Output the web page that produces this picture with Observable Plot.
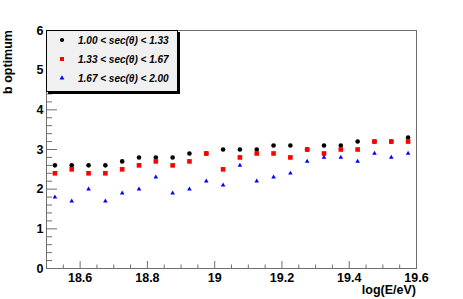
<!DOCTYPE html>
<html>
<head>
<meta charset="utf-8">
<script src="https://cdn.jsdelivr.net/npm/d3@7"></script>
<script src="https://cdn.jsdelivr.net/npm/@observablehq/plot@0.6"></script>
<style>
  html, body { margin: 0; padding: 0; background: #fff; }
  svg { display: block; }
</style>
</head>
<body>
<div id="chart"></div>
<script>
const logE = [18.525, 18.575, 18.625, 18.675, 18.725, 18.775, 18.825, 18.875, 18.925, 18.975, 19.025,
              19.075, 19.125, 19.175, 19.225, 19.275, 19.325, 19.375, 19.425, 19.475, 19.525, 19.575];
const bSec1 = [2.6, 2.6, 2.6, 2.6, 2.7, 2.8, 2.8, 2.8, 2.9, 2.9, 3.0, 3.0, 3.0, 3.1, 3.1, 3.0, 3.1, 3.1, 3.2, 3.2, 3.2, 3.3];
const bSec2 = [2.4, 2.5, 2.4, 2.4, 2.5, 2.6, 2.7, 2.6, 2.7, 2.9, 2.5, 2.8, 2.9, 2.9, 2.8, 3.0, 2.9, 3.0, 3.0, 3.2, 3.2, 3.2];
const bSec3 = [1.8, 1.7, 2.0, 1.7, 1.9, 2.0, 2.3, 1.9, 2.0, 2.2, 2.1, 2.6, 2.2, 2.3, 2.4, 2.7, 2.8, 2.8, 2.7, 2.9, 2.8, 2.9];
const seriesNames = ["1.00 < sec(\u03b8) < 1.33", "1.33 < sec(\u03b8) < 1.67", "1.67 < sec(\u03b8) < 2.00"];
const xTicks = [18.6, 18.8, 19.0, 19.2, 19.4, 19.6];
const xTickLabels = ["18.6", "18.8", "19", "19.2", "19.4", "19.6"];
const xMinorTicks = [18.5, 18.55, 18.65, 18.7, 18.75, 18.85, 18.9, 18.95, 19.05, 19.1, 19.15, 19.25, 19.3, 19.35, 19.45, 19.5, 19.55];
const yTicks = [0, 1, 2, 3, 4, 5, 6];
const yTickLabels = ["0", "1", "2", "3", "4", "5", "6"];
const yMinorTicks = [0.2, 0.4, 0.6, 0.8, 1.2, 1.4, 1.6, 1.8, 2.2, 2.4, 2.6, 2.8, 3.2, 3.4, 3.6, 3.8, 4.2, 4.4, 4.6, 4.8, 5.2, 5.4, 5.6, 5.8];
const xTitle = "log(E/eV)";
const yTitle = "b optimum";

const W = 463, H = 299, mL = 46, mR = 47, mT = 30, mB = 31;
const innerW = W - mL - mR, innerH = H - mT - mB;
const font = "'Liberation Sans', Arial, Helvetica, sans-serif";
const axisColor = "#6e6e6e";

const rows = (ys) => logE.map((x, i) => ({x, y: ys[i]}));

const plot = Plot.plot({
  width: W, height: H,
  marginLeft: mL, marginRight: mR, marginTop: mT, marginBottom: mB,
  style: {fontFamily: font, background: "#fff"},
  x: {domain: [18.5, 19.6]},
  y: {domain: [0, 6]},
  marks: [
    Plot.frame({stroke: axisColor}),
    Plot.tickX(xTicks, {x: d => d, insetTop: innerH - 7, stroke: axisColor}),
    Plot.tickX(xMinorTicks, {x: d => d, insetTop: innerH - 3.5, stroke: axisColor}),
    Plot.tickY(yTicks, {y: d => d, insetRight: innerW - 11, stroke: axisColor}),
    Plot.tickY(yMinorTicks, {y: d => d, insetRight: innerW - 6, stroke: axisColor}),
    Plot.axisX({ticks: xTicks, tickSize: 0, tickPadding: 5, tickFormat: (d, i) => xTickLabels[i],
      fontSize: 12.5, fontWeight: "bold", fill: "#000", label: null}),
    Plot.axisY({ticks: yTicks, tickSize: 0, tickPadding: 3, tickFormat: (d, i) => yTickLabels[i],
      fontSize: 12.5, fontWeight: "bold", fill: "#000", label: null}),
    Plot.dot(rows(bSec1), {x: "x", y: "y", symbol: "circle", r: 2.3, fill: "#000"}),
    Plot.dot(rows(bSec2), {x: "x", y: "y", symbol: "square", r: 2.6, fill: "#ff0000"}),
    Plot.dot(rows(bSec3), {x: "x", y: "y", symbol: "triangle", r: 1.7, fill: "#0000ff"})
  ]
});

const svg = d3.select(plot);
// axis titles
svg.append("text")
  .attr("x", W - mR).attr("y", 294)
  .attr("text-anchor", "end")
  .attr("font-family", font).attr("font-size", 12.5).attr("font-weight", "bold")
  .text(xTitle);
svg.append("text")
  .attr("transform", `translate(11.5, ${mT}) rotate(-90)`)
  .attr("text-anchor", "end")
  .attr("font-family", font).attr("font-size", 12.5).attr("font-weight", "bold")
  .text(yTitle);

// legend
const lg = svg.append("g");
const lx = mL, ly = mT, lw = 132, lh = 62;
lg.append("rect").attr("x", lx + 2).attr("y", ly + 2).attr("width", lw).attr("height", lh).attr("fill", "#000");
lg.append("rect").attr("x", lx + 0.5).attr("y", ly + 0.5).attr("width", lw - 1).attr("height", lh - 1)
  .attr("fill", "#f0f0f0").attr("stroke", "#000");
const legendColors = ["#000", "#ff0000", "#0000ff"];
const legendSymbols = [d3.symbolCircle, d3.symbolSquare, d3.symbolTriangle];
const legendSizes = [14, 16, 10];
const rowY = [40, 59, 78];
seriesNames.forEach((name, i) => {
  lg.append("path")
    .attr("transform", `translate(62, ${rowY[i]})`)
    .attr("d", d3.symbol(legendSymbols[i], legendSizes[i])())
    .attr("fill", legendColors[i]);
  lg.append("text")
    .attr("x", 78).attr("y", rowY[i] + 3.5)
    .attr("text-anchor", "start")
    .attr("font-family", font).attr("font-size", 10)
    .attr("font-weight", "bold").attr("font-style", "italic")
    .text(name);
});

document.getElementById("chart").appendChild(plot);
</script>
</body>
</html>
